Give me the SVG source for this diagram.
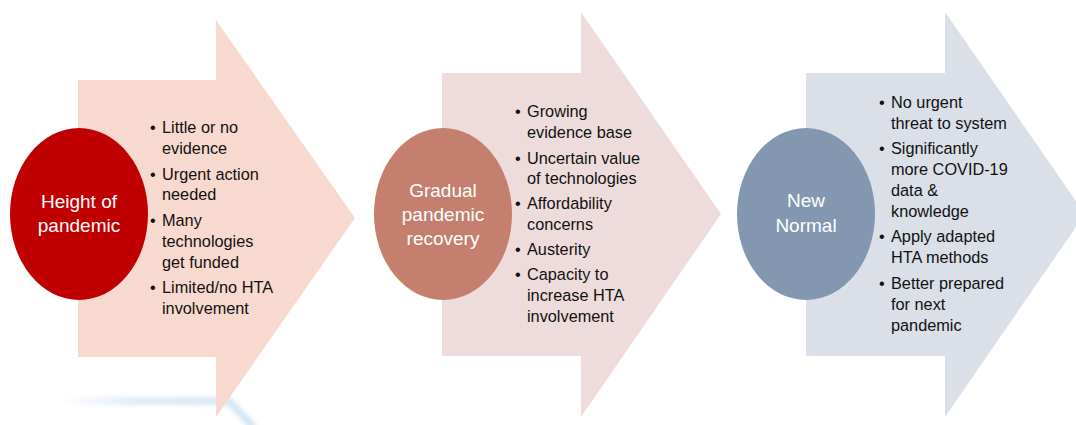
<svg xmlns="http://www.w3.org/2000/svg" width="1076" height="425" viewBox="0 0 1076 425">
  <defs>
    <filter id="soft" x="-20%" y="-200%" width="140%" height="500%">
      <feGaussianBlur stdDeviation="2.4"/>
    </filter>
    <linearGradient id="fade" x1="60" y1="0" x2="250" y2="0" gradientUnits="userSpaceOnUse">
      <stop offset="0" stop-color="#D5E5F4" stop-opacity="0"/>
      <stop offset="0.35" stop-color="#D5E5F4" stop-opacity="0.8"/>
      <stop offset="1" stop-color="#CFE1F3" stop-opacity="1"/>
    </linearGradient>
    <style>
      .bul { font-family: "Liberation Sans", Arial, sans-serif; font-size: 16.3px; fill: #111111; }
      .lbl { font-family: "Liberation Sans", Arial, sans-serif; font-size: 19px; fill: #ffffff; text-anchor: middle; }
    </style>
  </defs>
  <rect width="1076" height="425" fill="#ffffff"/>

  <path d="M62,401 L229,401 L254,428" fill="none" stroke="url(#fade)" stroke-width="7" filter="url(#soft)"/>

  <g id="stage1">
    <polygon points="78,80 216,80 216,20 355,218 216,417 216,357 78,357" fill="#F8D9CF"/>
    <ellipse cx="79" cy="214" rx="69" ry="86" fill="#C00000"/>
    <text class="lbl"><tspan x="79" y="208">Height of</tspan><tspan x="79" y="232">pandemic</tspan></text>
    <text class="bul">
      <tspan x="150" y="133">•</tspan><tspan x="162" y="133">Little or no</tspan>
      <tspan x="162" y="154">evidence</tspan>
      <tspan x="150" y="180">•</tspan><tspan x="162" y="180">Urgent action</tspan>
      <tspan x="162" y="200">needed</tspan>
      <tspan x="150" y="226">•</tspan><tspan x="162" y="226">Many</tspan>
      <tspan x="162" y="247">technologies</tspan>
      <tspan x="162" y="268">get funded</tspan>
      <tspan x="150" y="293">•</tspan><tspan x="162" y="293">Limited/no HTA</tspan>
      <tspan x="162" y="314">involvement</tspan>
    </text>
  </g>

  <g id="stage2">
    <polygon points="442,73 581,73 581,12 721,214 581,417 581,356 442,356" fill="#EEDCDC"/>
    <ellipse cx="443" cy="214" rx="69" ry="86" fill="#C47F6E"/>
    <text class="lbl"><tspan x="443" y="197">Gradual</tspan><tspan x="443" y="221">pandemic</tspan><tspan x="443" y="245">recovery</tspan></text>
    <text class="bul">
      <tspan x="515" y="117">•</tspan><tspan x="527" y="117">Growing</tspan>
      <tspan x="527" y="138">evidence base</tspan>
      <tspan x="515" y="164">•</tspan><tspan x="527" y="164">Uncertain value</tspan>
      <tspan x="527" y="184">of technologies</tspan>
      <tspan x="515" y="209">•</tspan><tspan x="527" y="209">Affordability</tspan>
      <tspan x="527" y="230">concerns</tspan>
      <tspan x="515" y="255">•</tspan><tspan x="527" y="255">Austerity</tspan>
      <tspan x="515" y="280">•</tspan><tspan x="527" y="280">Capacity to</tspan>
      <tspan x="527" y="301">increase HTA</tspan>
      <tspan x="527" y="322">involvement</tspan>
    </text>
  </g>

  <g id="stage3">
    <polygon points="806,73 945,73 945,12 1085,214 945,417 945,356 806,356" fill="#DADFE8"/>
    <ellipse cx="806" cy="214" rx="69" ry="86" fill="#8497B0"/>
    <text class="lbl"><tspan x="806" y="207">New</tspan><tspan x="806" y="232">Normal</tspan></text>
    <text class="bul">
      <tspan x="879" y="108">•</tspan><tspan x="891" y="108">No urgent</tspan>
      <tspan x="891" y="129">threat to system</tspan>
      <tspan x="879" y="154">•</tspan><tspan x="891" y="154">Significantly</tspan>
      <tspan x="891" y="175">more COVID-19</tspan>
      <tspan x="891" y="196">data &amp;</tspan>
      <tspan x="891" y="217">knowledge</tspan>
      <tspan x="879" y="242">•</tspan><tspan x="891" y="242">Apply adapted</tspan>
      <tspan x="891" y="263">HTA methods</tspan>
      <tspan x="879" y="289">•</tspan><tspan x="891" y="289">Better prepared</tspan>
      <tspan x="891" y="310">for next</tspan>
      <tspan x="891" y="331">pandemic</tspan>
    </text>
  </g>

  <g id="connectors"/>
</svg>
